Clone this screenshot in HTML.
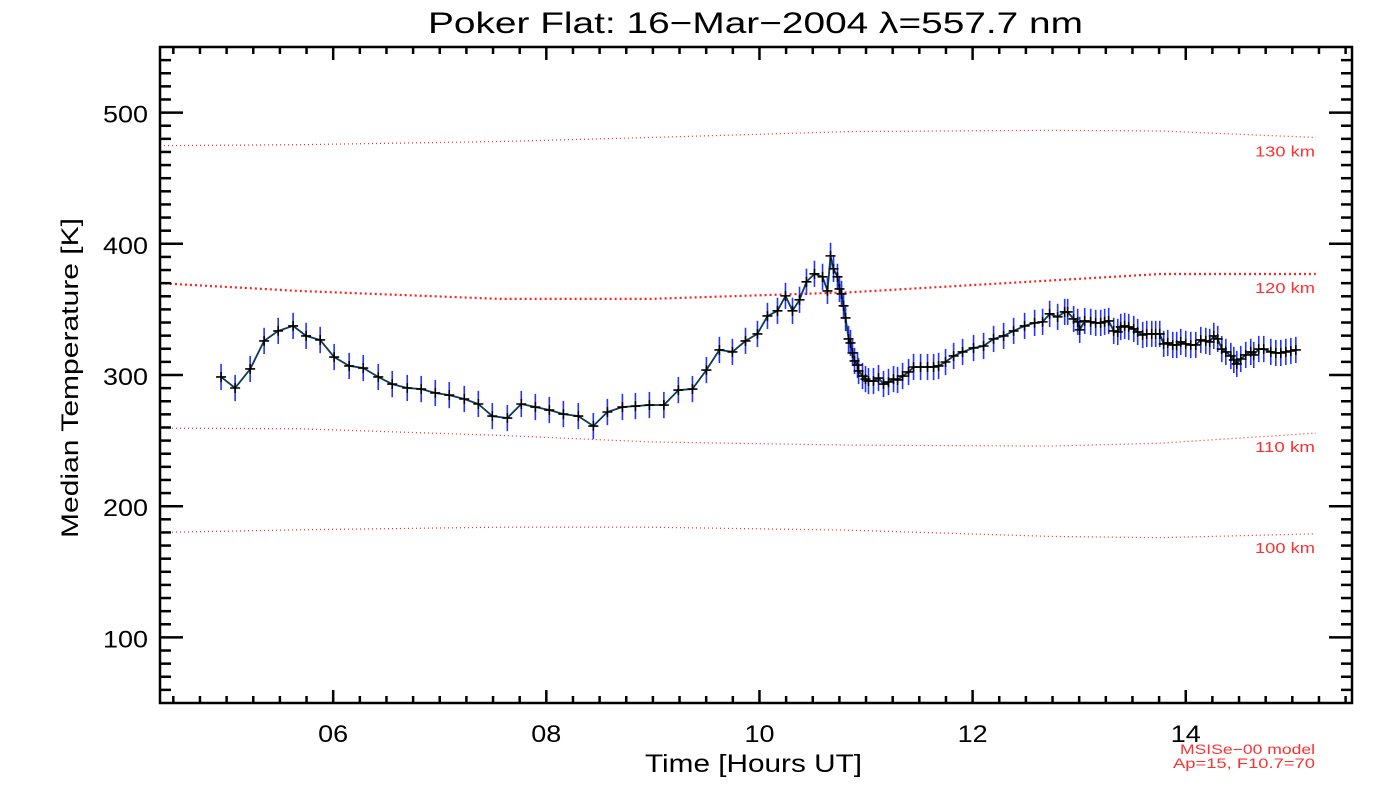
<!DOCTYPE html>
<html><head><meta charset="utf-8">
<style>
html,body{margin:0;padding:0;background:#fff;}
svg{display:block;font-family:"Liberation Sans","DejaVu Sans",sans-serif;}
</style></head>
<body>
<svg id="chart" width="1400" height="800" viewBox="0 0 1400 800" xmlns="http://www.w3.org/2000/svg">
<text x="428" y="33" font-size="30" textLength="655" lengthAdjust="spacingAndGlyphs" fill="#000">Poker Flat: 16−Mar−2004 λ=557.7 nm</text>
<text x="645" y="772" font-size="25" textLength="217" lengthAdjust="spacingAndGlyphs" fill="#000">Time [Hours UT]</text>
<text transform="translate(78,538) rotate(-90)" font-size="24" textLength="320" lengthAdjust="spacingAndGlyphs" fill="#000">Median Temperature [K]</text>
<text x="1180" y="754" font-size="14" textLength="135" lengthAdjust="spacingAndGlyphs" fill="#ff3030">MSISe−00 model</text>
<text x="1173" y="768" font-size="14" textLength="142" lengthAdjust="spacingAndGlyphs" fill="#ff3030">Ap=15, F10.7=70</text>
<g id="model"></g>
<g id="axes"></g>
<g id="series"></g>
</svg>
<script>
const hours = [4.948,5.080,5.221,5.352,5.484,5.624,5.746,5.878,6.009,6.150,6.282,6.423,6.554,6.695,6.826,6.958,7.089,7.230,7.362,7.493,7.634,7.765,7.897,8.028,8.160,8.300,8.441,8.573,8.714,8.836,8.967,9.103,9.239,9.371,9.502,9.624,9.746,9.869,9.981,10.075,10.169,10.244,10.310,10.376,10.441,10.516,10.592,10.638,10.667,10.695,10.732,10.751,10.770,10.789,10.808,10.836,10.854,10.873,10.892,10.920,10.930,10.967,10.995,11.023,11.070,11.117,11.164,11.211,11.258,11.296,11.343,11.399,11.446,11.512,11.577,11.634,11.681,11.746,11.822,11.906,12.009,12.103,12.197,12.291,12.385,12.488,12.582,12.657,12.723,12.798,12.864,12.892,12.948,12.986,13.005,13.052,13.108,13.155,13.202,13.239,13.277,13.324,13.362,13.390,13.427,13.465,13.512,13.549,13.596,13.634,13.681,13.718,13.756,13.793,13.831,13.878,13.915,13.953,14.000,14.047,14.094,14.141,14.188,14.225,14.263,14.300,14.338,14.376,14.423,14.451,14.479,14.516,14.563,14.610,14.638,14.685,14.732,14.798,14.845,14.892,14.939,14.986,15.033];
const temps = [298.5,290.1,304.6,326.0,333.6,337.4,329.8,326.7,313.7,306.9,305.3,298.5,293.1,290.1,289.3,286.3,284.7,281.7,277.9,268.7,267.2,277.9,275.6,273.3,270.2,268.7,261.1,271.8,275.6,276.3,277.1,277.1,288.5,289.3,303.8,319.1,317.6,326.0,331.3,345.0,348.9,360.3,348.9,357.3,371.0,377.1,374.8,364.1,390.8,380.9,374.8,365.6,361.8,352.7,343.5,327.5,324.4,316.8,310.7,307.6,303.1,299.2,296.9,295.4,295.4,297.7,293.1,294.7,296.9,296.2,299.2,302.3,306.1,306.1,306.1,306.1,306.9,309.9,314.5,317.6,320.6,322.1,327.5,329.8,333.6,337.4,339.7,340.5,346.6,344.3,348.1,348.1,342.7,340.5,334.4,341.2,340.5,339.7,339.7,340.5,341.2,333.6,332.8,336.6,337.4,336.6,335.1,332.8,330.5,331.3,331.3,331.3,331.3,323.7,324.4,322.9,322.9,325.2,323.7,322.9,322.9,326.7,326.0,325.2,329.8,327.5,319.8,317.6,314.5,311.5,308.4,312.2,315.3,317.6,315.3,319.8,319.8,317.6,316.8,316.8,317.6,318.3,319.1];
const errHalf = 10;
const modelHours = [4.375,5.69,7.57,8.97,10.85,12.73,13.76,15.22];
const model130 = [474.8,475.5,478,481,485.5,486.5,486,481];
const model120 = [370,364,358,358,363,372,377,377];
const model110 = [259.5,259,254,249,246.6,245.8,248,255.7];
const model100 = [180,182,184,184,181.7,177,176,179];
const modelLabels = ["130 km","120 km","110 km","100 km"];
const xMajorTicks = [6,8,10,12,14];
const xTickLabels = ["06","08","10","12","14"];
const yMajorTicks = [100,200,300,400,500];
const yTickLabels = ["100","200","300","400","500"];

const X0=160,X1=1352,Y0=47,Y1=703,XMIN=4.375,XMAX=15.56,YMIN=50,YMAX=550;
function sx(h){return X0+(h-XMIN)/(XMAX-XMIN)*(X1-X0);}
function sy(t){return Y1-(t-YMIN)/(YMAX-YMIN)*(Y1-Y0);}
const NS="http://www.w3.org/2000/svg";
function mk(tag,attrs,parent){const e=document.createElementNS(NS,tag);for(const k in attrs)e.setAttribute(k,attrs[k]);parent.appendChild(e);return e;}

const mg=document.getElementById('model');
const models=[model130,model120,model110,model100];
models.forEach((arr,i)=>{
  const pts=modelHours.map((h,j)=>sx(h).toFixed(1)+','+sy(arr[j]).toFixed(1)).join(' ');
  const pl=mk('polyline',{points:pts,fill:'none',stroke:'#ff2020','stroke-width':i===1?2.2:1.2,'stroke-dasharray':i===1?'2 3':'1 3'},mg);
  
  
  const t=mk('text',{x:1255,y:(sy(arr[arr.length-1])+19).toFixed(1),'font-size':15,textLength:60,lengthAdjust:'spacingAndGlyphs',fill:'#ff3030'},mg);
  t.textContent=modelLabels[i];
  
  
});

const ag=document.getElementById('axes');
const box=mk('rect',{x:X0,y:Y0,width:X1-X0,height:Y1-Y0,fill:'none',stroke:'#000','stroke-width':2.5},ag);


for(let h=4.5;h<=15.5+1e-6;h+=0.25){
  const major=xMajorTicks.some(m=>Math.abs(m-h)<1e-6);
  const L=major?13:7,x=sx(h);
  const tb=mk('line',{x1:x,y1:Y1,x2:x,y2:Y1-L,stroke:'#000','stroke-width':2.5},ag);
  
  
  const tt=mk('line',{x1:x,y1:Y0,x2:x,y2:Y0+L,stroke:'#000','stroke-width':2.5},ag);
  
  
}
xMajorTicks.forEach((h,i)=>{
  const t=mk('text',{x:sx(h)-15,y:742,'font-size':24,textLength:30,lengthAdjust:'spacingAndGlyphs',fill:'#000'},ag);
  t.textContent=xTickLabels[i];
  
  
});
for(let v=60;v<=540;v+=10){
  const major=yMajorTicks.includes(v);
  const L=major?23:11,y=sy(v);
  const tl=mk('line',{x1:X0,y1:y,x2:X0+L,y2:y,stroke:'#000','stroke-width':2.5},ag);
  
  
  const tr=mk('line',{x1:X1,y1:y,x2:X1-L,y2:y,stroke:'#000','stroke-width':2.5},ag);
  
  
}
yMajorTicks.forEach((v,i)=>{
  const t=mk('text',{x:103,y:sy(v)+10,'font-size':24,textLength:45,lengthAdjust:'spacingAndGlyphs',fill:'#000'},ag);
  t.textContent=yTickLabels[i];
  
  
});

const sg=document.getElementById('series');
hours.forEach((h,i)=>{
  const x=sx(h);
  const eb=mk('line',{x1:x,y1:sy(temps[i]+errHalf),x2:x,y2:sy(temps[i]-errHalf),stroke:'#2233ff','stroke-width':1.6},sg);
  
  
});
const line=mk('polyline',{points:hours.map((h,i)=>sx(h).toFixed(1)+','+sy(temps[i]).toFixed(1)).join(' '),fill:'none',stroke:'#0d3a5a','stroke-width':1.8},sg);


hours.forEach((h,i)=>{
  const x=sx(h),y=sy(temps[i]);
  const p=mk('path',{d:`M${x-5},${y}H${x+5}M${x},${y-5}V${y+5}`,stroke:'#000','stroke-width':1.6,fill:'none'},sg);
  
  
});
</script>
</body></html>
